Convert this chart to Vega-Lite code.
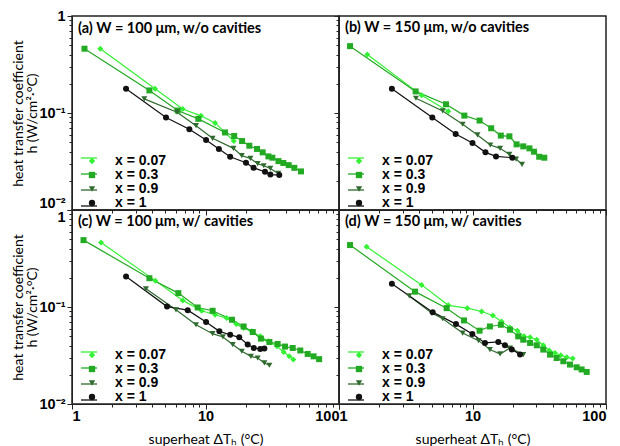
{
  "$schema": "https://vega.github.io/schema/vega-lite/v6.json",
  "background": "white",
  "padding": {"left": 10, "top": 7, "right": 5, "bottom": 0},
  "datasets": {
    "all": [
      {"panel": "a", "s": "x = 0.07", "dT": 1.63, "h": 0.46},
      {"panel": "a", "s": "x = 0.07", "dT": 4.19, "h": 0.178},
      {"panel": "a", "s": "x = 0.07", "dT": 6.75, "h": 0.110},
      {"panel": "a", "s": "x = 0.07", "dT": 9.25, "h": 0.0935},
      {"panel": "a", "s": "x = 0.07", "dT": 11.8, "h": 0.079},
      {"panel": "a", "s": "x = 0.07", "dT": 16.3, "h": 0.0515},
      {"panel": "a", "s": "x = 0.3", "dT": 1.24, "h": 0.46},
      {"panel": "a", "s": "x = 0.3", "dT": 3.80, "h": 0.171},
      {"panel": "a", "s": "x = 0.3", "dT": 6.19, "h": 0.106},
      {"panel": "a", "s": "x = 0.3", "dT": 8.84, "h": 0.087},
      {"panel": "a", "s": "x = 0.3", "dT": 14.0, "h": 0.063},
      {"panel": "a", "s": "x = 0.3", "dT": 16.4, "h": 0.058},
      {"panel": "a", "s": "x = 0.3", "dT": 18.8, "h": 0.0514},
      {"panel": "a", "s": "x = 0.3", "dT": 21.3, "h": 0.046},
      {"panel": "a", "s": "x = 0.3", "dT": 24.3, "h": 0.0426},
      {"panel": "a", "s": "x = 0.3", "dT": 26.8, "h": 0.0393},
      {"panel": "a", "s": "x = 0.3", "dT": 29.6, "h": 0.0357},
      {"panel": "a", "s": "x = 0.3", "dT": 31.7, "h": 0.0346},
      {"panel": "a", "s": "x = 0.3", "dT": 35.2, "h": 0.0319},
      {"panel": "a", "s": "x = 0.3", "dT": 38.3, "h": 0.0305},
      {"panel": "a", "s": "x = 0.3", "dT": 42.0, "h": 0.029},
      {"panel": "a", "s": "x = 0.3", "dT": 46.3, "h": 0.0272},
      {"panel": "a", "s": "x = 0.3", "dT": 51.9, "h": 0.025},
      {"panel": "a", "s": "x = 0.9", "dT": 3.48, "h": 0.140},
      {"panel": "a", "s": "x = 0.9", "dT": 6.12, "h": 0.102},
      {"panel": "a", "s": "x = 0.9", "dT": 8.49, "h": 0.074},
      {"panel": "a", "s": "x = 0.9", "dT": 11.3, "h": 0.0548},
      {"panel": "a", "s": "x = 0.9", "dT": 16.2, "h": 0.0432},
      {"panel": "a", "s": "x = 0.9", "dT": 18.7, "h": 0.0363},
      {"panel": "a", "s": "x = 0.9", "dT": 21.7, "h": 0.034},
      {"panel": "a", "s": "x = 0.9", "dT": 24.6, "h": 0.030},
      {"panel": "a", "s": "x = 0.9", "dT": 27.3, "h": 0.0286},
      {"panel": "a", "s": "x = 0.9", "dT": 30.6, "h": 0.0268},
      {"panel": "a", "s": "x = 0.9", "dT": 35.1, "h": 0.0238},
      {"panel": "a", "s": "x = 1", "dT": 2.54, "h": 0.178},
      {"panel": "a", "s": "x = 1", "dT": 5.06, "h": 0.090},
      {"panel": "a", "s": "x = 1", "dT": 7.57, "h": 0.068},
      {"panel": "a", "s": "x = 1", "dT": 10.1, "h": 0.0527},
      {"panel": "a", "s": "x = 1", "dT": 12.6, "h": 0.0425},
      {"panel": "a", "s": "x = 1", "dT": 15.3, "h": 0.0354},
      {"panel": "a", "s": "x = 1", "dT": 20.1, "h": 0.0307},
      {"panel": "a", "s": "x = 1", "dT": 22.9, "h": 0.0272},
      {"panel": "a", "s": "x = 1", "dT": 27.9, "h": 0.0248},
      {"panel": "a", "s": "x = 1", "dT": 30.6, "h": 0.0232},
      {"panel": "a", "s": "x = 1", "dT": 35.7, "h": 0.0229},

      {"panel": "b", "s": "x = 0.07", "dT": 1.63, "h": 0.401},
      {"panel": "b", "s": "x = 0.07", "dT": 4.16, "h": 0.152},
      {"panel": "b", "s": "x = 0.07", "dT": 6.59, "h": 0.104},
      {"panel": "b", "s": "x = 0.3", "dT": 1.21, "h": 0.489},
      {"panel": "b", "s": "x = 0.3", "dT": 3.75, "h": 0.167},
      {"panel": "b", "s": "x = 0.3", "dT": 6.33, "h": 0.123},
      {"panel": "b", "s": "x = 0.3", "dT": 8.69, "h": 0.094},
      {"panel": "b", "s": "x = 0.3", "dT": 11.3, "h": 0.0836},
      {"panel": "b", "s": "x = 0.3", "dT": 13.8, "h": 0.0696},
      {"panel": "b", "s": "x = 0.3", "dT": 16.3, "h": 0.0585},
      {"panel": "b", "s": "x = 0.3", "dT": 18.9, "h": 0.0575},
      {"panel": "b", "s": "x = 0.3", "dT": 21.4, "h": 0.0475},
      {"panel": "b", "s": "x = 0.3", "dT": 24.0, "h": 0.0453},
      {"panel": "b", "s": "x = 0.3", "dT": 26.7, "h": 0.0432},
      {"panel": "b", "s": "x = 0.3", "dT": 28.9, "h": 0.0399},
      {"panel": "b", "s": "x = 0.3", "dT": 31.6, "h": 0.0354},
      {"panel": "b", "s": "x = 0.3", "dT": 34.5, "h": 0.0346},
      {"panel": "b", "s": "x = 0.9", "dT": 3.77, "h": 0.142},
      {"panel": "b", "s": "x = 0.9", "dT": 5.98, "h": 0.105},
      {"panel": "b", "s": "x = 0.9", "dT": 8.44, "h": 0.0766},
      {"panel": "b", "s": "x = 0.9", "dT": 10.9, "h": 0.0594},
      {"panel": "b", "s": "x = 0.9", "dT": 13.6, "h": 0.0468},
      {"panel": "b", "s": "x = 0.9", "dT": 16.1, "h": 0.0432},
      {"panel": "b", "s": "x = 0.9", "dT": 18.9, "h": 0.0374},
      {"panel": "b", "s": "x = 0.9", "dT": 21.2, "h": 0.0335},
      {"panel": "b", "s": "x = 0.9", "dT": 23.5, "h": 0.0295},
      {"panel": "b", "s": "x = 1", "dT": 2.49, "h": 0.178},
      {"panel": "b", "s": "x = 1", "dT": 5.0, "h": 0.090},
      {"panel": "b", "s": "x = 1", "dT": 7.48, "h": 0.0608},
      {"panel": "b", "s": "x = 1", "dT": 10.0, "h": 0.049},
      {"panel": "b", "s": "x = 1", "dT": 12.5, "h": 0.0393},
      {"panel": "b", "s": "x = 1", "dT": 15.0, "h": 0.0357},
      {"panel": "b", "s": "x = 1", "dT": 19.9, "h": 0.0346},

      {"panel": "c", "s": "x = 0.07", "dT": 1.65, "h": 0.462},
      {"panel": "c", "s": "x = 0.07", "dT": 4.21, "h": 0.187},
      {"panel": "c", "s": "x = 0.07", "dT": 6.75, "h": 0.117},
      {"panel": "c", "s": "x = 0.07", "dT": 9.36, "h": 0.0914},
      {"panel": "c", "s": "x = 0.07", "dT": 11.8, "h": 0.0832},
      {"panel": "c", "s": "x = 0.07", "dT": 14.4, "h": 0.0768},
      {"panel": "c", "s": "x = 0.07", "dT": 17.0, "h": 0.0666},
      {"panel": "c", "s": "x = 0.07", "dT": 19.3, "h": 0.0606},
      {"panel": "c", "s": "x = 0.07", "dT": 22.2, "h": 0.0561},
      {"panel": "c", "s": "x = 0.07", "dT": 25.7, "h": 0.0498},
      {"panel": "c", "s": "x = 0.07", "dT": 29.6, "h": 0.0443},
      {"panel": "c", "s": "x = 0.07", "dT": 34.3, "h": 0.0394},
      {"panel": "c", "s": "x = 0.07", "dT": 38.5, "h": 0.0344},
      {"panel": "c", "s": "x = 0.07", "dT": 42.4, "h": 0.031},
      {"panel": "c", "s": "x = 0.07", "dT": 45.5, "h": 0.0287},
      {"panel": "c", "s": "x = 0.3", "dT": 1.22, "h": 0.489},
      {"panel": "c", "s": "x = 0.3", "dT": 3.8, "h": 0.198},
      {"panel": "c", "s": "x = 0.3", "dT": 6.26, "h": 0.139},
      {"panel": "c", "s": "x = 0.3", "dT": 8.74, "h": 0.0989},
      {"panel": "c", "s": "x = 0.3", "dT": 11.3, "h": 0.0914},
      {"panel": "c", "s": "x = 0.3", "dT": 15.8, "h": 0.0739},
      {"panel": "c", "s": "x = 0.3", "dT": 19.3, "h": 0.063},
      {"panel": "c", "s": "x = 0.3", "dT": 22.6, "h": 0.0552},
      {"panel": "c", "s": "x = 0.3", "dT": 26.0, "h": 0.0472},
      {"panel": "c", "s": "x = 0.3", "dT": 30.1, "h": 0.0436},
      {"panel": "c", "s": "x = 0.3", "dT": 34.7, "h": 0.0416},
      {"panel": "c", "s": "x = 0.3", "dT": 39.4, "h": 0.0391},
      {"panel": "c", "s": "x = 0.3", "dT": 45.0, "h": 0.0378},
      {"panel": "c", "s": "x = 0.3", "dT": 51.3, "h": 0.0356},
      {"panel": "c", "s": "x = 0.3", "dT": 58.3, "h": 0.0328},
      {"panel": "c", "s": "x = 0.3", "dT": 64.5, "h": 0.031},
      {"panel": "c", "s": "x = 0.3", "dT": 71.0, "h": 0.029},
      {"panel": "c", "s": "x = 0.9", "dT": 3.58, "h": 0.154},
      {"panel": "c", "s": "x = 0.9", "dT": 6.01, "h": 0.0935},
      {"panel": "c", "s": "x = 0.9", "dT": 8.49, "h": 0.0656},
      {"panel": "c", "s": "x = 0.9", "dT": 11.3, "h": 0.0531},
      {"panel": "c", "s": "x = 0.9", "dT": 13.5, "h": 0.0491},
      {"panel": "c", "s": "x = 0.9", "dT": 16.0, "h": 0.041},
      {"panel": "c", "s": "x = 0.9", "dT": 18.7, "h": 0.035},
      {"panel": "c", "s": "x = 0.9", "dT": 21.9, "h": 0.031},
      {"panel": "c", "s": "x = 0.9", "dT": 24.6, "h": 0.0298},
      {"panel": "c", "s": "x = 0.9", "dT": 27.6, "h": 0.0265},
      {"panel": "c", "s": "x = 0.9", "dT": 30.1, "h": 0.0251},
      {"panel": "c", "s": "x = 1", "dT": 2.54, "h": 0.206},
      {"panel": "c", "s": "x = 1", "dT": 5.15, "h": 0.101},
      {"panel": "c", "s": "x = 1", "dT": 7.36, "h": 0.0928},
      {"panel": "c", "s": "x = 1", "dT": 10.1, "h": 0.0699},
      {"panel": "c", "s": "x = 1", "dT": 12.7, "h": 0.0561},
      {"panel": "c", "s": "x = 1", "dT": 15.3, "h": 0.0518},
      {"panel": "c", "s": "x = 1", "dT": 17.9, "h": 0.0487},
      {"panel": "c", "s": "x = 1", "dT": 20.7, "h": 0.041},
      {"panel": "c", "s": "x = 1", "dT": 23.0, "h": 0.0378},
      {"panel": "c", "s": "x = 1", "dT": 25.7, "h": 0.0369},
      {"panel": "c", "s": "x = 1", "dT": 27.6, "h": 0.0373},

      {"panel": "d", "s": "x = 0.07", "dT": 1.61, "h": 0.418},
      {"panel": "d", "s": "x = 0.07", "dT": 4.16, "h": 0.169},
      {"panel": "d", "s": "x = 0.07", "dT": 6.59, "h": 0.104},
      {"panel": "d", "s": "x = 0.07", "dT": 9.14, "h": 0.0973},
      {"panel": "d", "s": "x = 0.07", "dT": 11.7, "h": 0.0899},
      {"panel": "d", "s": "x = 0.07", "dT": 14.2, "h": 0.0818},
      {"panel": "d", "s": "x = 0.07", "dT": 16.5, "h": 0.071},
      {"panel": "d", "s": "x = 0.07", "dT": 19.1, "h": 0.0616},
      {"panel": "d", "s": "x = 0.07", "dT": 21.7, "h": 0.057},
      {"panel": "d", "s": "x = 0.07", "dT": 24.3, "h": 0.0498},
      {"panel": "d", "s": "x = 0.07", "dT": 27.0, "h": 0.0487},
      {"panel": "d", "s": "x = 0.07", "dT": 30.3, "h": 0.046},
      {"panel": "d", "s": "x = 0.07", "dT": 33.9, "h": 0.0403},
      {"panel": "d", "s": "x = 0.07", "dT": 37.6, "h": 0.0356},
      {"panel": "d", "s": "x = 0.07", "dT": 41.5, "h": 0.0336},
      {"panel": "d", "s": "x = 0.07", "dT": 45.8, "h": 0.0318},
      {"panel": "d", "s": "x = 0.07", "dT": 50.8, "h": 0.0303},
      {"panel": "d", "s": "x = 0.07", "dT": 56.3, "h": 0.0294},
      {"panel": "d", "s": "x = 0.3", "dT": 1.21, "h": 0.435},
      {"panel": "d", "s": "x = 0.3", "dT": 3.71, "h": 0.144},
      {"panel": "d", "s": "x = 0.3", "dT": 6.4, "h": 0.0973},
      {"panel": "d", "s": "x = 0.3", "dT": 8.64, "h": 0.0727},
      {"panel": "d", "s": "x = 0.3", "dT": 11.3, "h": 0.057},
      {"panel": "d", "s": "x = 0.3", "dT": 13.5, "h": 0.063},
      {"panel": "d", "s": "x = 0.3", "dT": 16.3, "h": 0.0656},
      {"panel": "d", "s": "x = 0.3", "dT": 19.1, "h": 0.0583},
      {"panel": "d", "s": "x = 0.3", "dT": 22.0, "h": 0.0498},
      {"panel": "d", "s": "x = 0.3", "dT": 24.0, "h": 0.046},
      {"panel": "d", "s": "x = 0.3", "dT": 27.0, "h": 0.0426},
      {"panel": "d", "s": "x = 0.3", "dT": 30.3, "h": 0.0403},
      {"panel": "d", "s": "x = 0.3", "dT": 33.9, "h": 0.0364},
      {"panel": "d", "s": "x = 0.3", "dT": 38.1, "h": 0.0323},
      {"panel": "d", "s": "x = 0.3", "dT": 42.7, "h": 0.0298},
      {"panel": "d", "s": "x = 0.3", "dT": 47.9, "h": 0.0276},
      {"panel": "d", "s": "x = 0.3", "dT": 53.7, "h": 0.0255},
      {"panel": "d", "s": "x = 0.3", "dT": 60.3, "h": 0.0239},
      {"panel": "d", "s": "x = 0.3", "dT": 65.7, "h": 0.0227},
      {"panel": "d", "s": "x = 0.3", "dT": 71.7, "h": 0.0214},
      {"panel": "d", "s": "x = 0.9", "dT": 3.36, "h": 0.130},
      {"panel": "d", "s": "x = 0.9", "dT": 4.95, "h": 0.0865},
      {"panel": "d", "s": "x = 0.9", "dT": 5.98, "h": 0.0757},
      {"panel": "d", "s": "x = 0.9", "dT": 8.44, "h": 0.0539},
      {"panel": "d", "s": "x = 0.9", "dT": 11.1, "h": 0.045},
      {"panel": "d", "s": "x = 0.9", "dT": 13.5, "h": 0.0364},
      {"panel": "d", "s": "x = 0.9", "dT": 16.1, "h": 0.0328},
      {"panel": "d", "s": "x = 0.9", "dT": 19.1, "h": 0.0378},
      {"panel": "d", "s": "x = 0.9", "dT": 24.0, "h": 0.0323},
      {"panel": "d", "s": "x = 1", "dT": 2.49, "h": 0.174},
      {"panel": "d", "s": "x = 1", "dT": 5.03, "h": 0.0885},
      {"panel": "d", "s": "x = 1", "dT": 7.52, "h": 0.0666},
      {"panel": "d", "s": "x = 1", "dT": 9.97, "h": 0.0526},
      {"panel": "d", "s": "x = 1", "dT": 12.4, "h": 0.0426},
      {"panel": "d", "s": "x = 1", "dT": 15.6, "h": 0.0436},
      {"panel": "d", "s": "x = 1", "dT": 17.5, "h": 0.0403},
      {"panel": "d", "s": "x = 1", "dT": 19.7, "h": 0.0364},
      {"panel": "d", "s": "x = 1", "dT": 22.7, "h": 0.0323}
    ]
  },
  "config": {
    "view": {"stroke": "#222", "strokeWidth": 1.5},
    "title": {"font": "Lato", "fontSize": 14.5, "fontWeight": "bold", "color": "#000", "anchor": "start", "frame": "group", "dx": 6},
    "axis": {
      "domainColor": "#222",
      "tickColor": "#222",
      "grid": false,
      "labelFont": "Liberation Sans",
      "labelFontWeight": "bold",
      "labelFontSize": 14.5,
      "labelColor": "#000",
      "labelPadding": 2,
      "titleFont": "Lato",
      "titleFontWeight": "normal",
      "titleFontSize": 14,
      "titleLineHeight": 14,
      "titleColor": "#000"
    },
    "legend": {
      "orient": "none",
      "legendY": 138,
      "title": null,
      "padding": 0,
      "labelFont": "Liberation Sans",
      "labelFontWeight": "bold",
      "labelFontSize": 14,
      "labelColor": "#000",
      "rowPadding": -2,
      "symbolStrokeWidth": 1.3
    }
  },
  "columns": 2,
  "spacing": 0,
  "bounds": "flush",
  "resolve": {"scale": {"color": "independent", "shape": "independent", "stroke": "independent"}, "legend": {"color": "independent", "shape": "independent", "stroke": "independent"}},
  "concat": [
    {
      "title": {"text": "(a) W = 100 μm, w/o cavities", "offset": -28},
      "width": 267, "height": 194,
      "data": {"name": "all"},
      "transform": [{"filter": "datum.panel == 'a'"}],
      "encoding": {
        "x": {"field": "dT", "type": "quantitative", "scale": {"type": "log", "domain": [1, 100], "nice": false},
              "axis": {"labels": false, "title": null, "values": [1,2,3,4,5,6,7,8,9,10,20,30,40,50,60,70,80,90,100],
                       "tickSize": {"condition": {"test": "abs(log(datum.value)/LN10 - round(log(datum.value)/LN10)) < 1e-6", "value": 5}, "value": 3}}},
        "y": {"field": "h", "type": "quantitative", "scale": {"type": "log", "domain": [0.01, 1], "nice": false},
              "axis": {"title": ["heat transfer coefficient", "h (W/cm²·°C)"], "titlePadding": 0,
                       "values": [0.01,0.02,0.03,0.04,0.05,0.06,0.07,0.08,0.09,0.1,0.2,0.3,0.4,0.5,0.6,0.7,0.8,0.9,1],
                       "tickSize": {"condition": {"test": "abs(log(datum.value)/LN10 - round(log(datum.value)/LN10)) < 1e-6", "value": 5}, "value": 3},
                       "labelBaseline": {"condition": {"test": "datum.value < 0.015", "value": "bottom"}, "value": "middle"},
                       "labelExpr": "abs(datum.value-1)<1e-9 ? '1' : abs(datum.value-0.1)<1e-9 ? '10⁻¹' : abs(datum.value-0.01)<1e-9 ? '10⁻²' : ''"}}
      },
      "layer": [
        {"mark": {"type": "line", "strokeWidth": 1.2},
         "encoding": {"stroke": {"field": "s", "type": "nominal",
            "scale": {"domain": ["x = 0.07", "x = 0.3", "x = 0.9", "x = 1", "-"], "range": ["#33f233", "#22aa22", "#2f6a2f", "#111111", "#ffffff"]},
            "legend": {"values": ["x = 0.07", "x = 0.3", "x = 0.9", "x = 1"], "symbolType": "stroke", "symbolSize": 256, "legendX": 8, "legendY": 133, "labelExpr": "''"}}}},
        {"mark": {"type": "point", "filled": true, "size": 36, "opacity": 1},
         "encoding": {
           "color": {"field": "s", "type": "nominal", "scale": {"domain": ["x = 0.07", "x = 0.3", "x = 0.9", "x = 1"], "range": ["#33f233", "#22aa22", "#2f6a2f", "#111111"]},
                     "legend": {"legendX": 13, "symbolSize": 40, "labelOffset": 16}},
           "shape": {"field": "s", "type": "nominal", "scale": {"domain": ["x = 0.07", "x = 0.3", "x = 0.9", "x = 1"], "range": ["diamond", "square", "triangle-down", "circle"]}}}}
      ]
    },
    {
      "title": {"text": "(b) W = 150 μm, w/o cavities", "offset": -20},
      "width": 267, "height": 194,
      "data": {"name": "all"},
      "transform": [{"filter": "datum.panel == 'b'"}],
      "encoding": {
        "x": {"field": "dT", "type": "quantitative", "scale": {"type": "log", "domain": [1, 100], "nice": false},
              "axis": {"labels": false, "title": null, "values": [1,2,3,4,5,6,7,8,9,10,20,30,40,50,60,70,80,90,100],
                       "tickSize": {"condition": {"test": "abs(log(datum.value)/LN10 - round(log(datum.value)/LN10)) < 1e-6", "value": 5}, "value": 3}}},
        "y": {"field": "h", "type": "quantitative", "scale": {"type": "log", "domain": [0.01, 1], "nice": false},
              "axis": {"labels": false, "title": null,
                       "values": [0.01,0.02,0.03,0.04,0.05,0.06,0.07,0.08,0.09,0.1,0.2,0.3,0.4,0.5,0.6,0.7,0.8,0.9,1],
                       "tickSize": {"condition": {"test": "abs(log(datum.value)/LN10 - round(log(datum.value)/LN10)) < 1e-6", "value": 5}, "value": 3}}}
      },
      "layer": [
        {"mark": {"type": "line", "strokeWidth": 1.2},
         "encoding": {"stroke": {"field": "s", "type": "nominal",
            "scale": {"domain": ["x = 0.07", "x = 0.3", "x = 0.9", "x = 1", "-"], "range": ["#33f233", "#22aa22", "#2f6a2f", "#111111", "#ffffff"]},
            "legend": {"values": ["x = 0.07", "x = 0.3", "x = 0.9", "x = 1"], "symbolType": "stroke", "symbolSize": 256, "legendX": 8, "legendY": 133, "labelExpr": "''"}}}},
        {"mark": {"type": "point", "filled": true, "size": 36, "opacity": 1},
         "encoding": {
           "color": {"field": "s", "type": "nominal", "scale": {"domain": ["x = 0.07", "x = 0.3", "x = 0.9", "x = 1"], "range": ["#33f233", "#22aa22", "#2f6a2f", "#111111"]},
                     "legend": {"legendX": 13, "symbolSize": 40, "labelOffset": 16}},
           "shape": {"field": "s", "type": "nominal", "scale": {"domain": ["x = 0.07", "x = 0.3", "x = 0.9", "x = 1"], "range": ["diamond", "square", "triangle-down", "circle"]}}}}
      ]
    },
    {
      "title": {"text": "(c) W = 100 μm, w/ cavities", "offset": -20},
      "width": 267, "height": 194,
      "data": {"name": "all"},
      "transform": [{"filter": "datum.panel == 'c'"}],
      "encoding": {
        "x": {"field": "dT", "type": "quantitative", "scale": {"type": "log", "domain": [1, 100], "nice": false},
              "axis": {"title": "superheat ΔTₕ (°C)", "titlePadding": 10, "labelPadding": 0, "values": [1,2,3,4,5,6,7,8,9,10,20,30,40,50,60,70,80,90,100],
                       "tickSize": {"condition": {"test": "abs(log(datum.value)/LN10 - round(log(datum.value)/LN10)) < 1e-6", "value": 5}, "value": 3},
                       "labelExpr": "abs(datum.value-1)<1e-9 ? '1' : abs(datum.value-10)<1e-9 ? '10' : abs(datum.value-100)<1e-9 ? '100' : ''"}},
        "y": {"field": "h", "type": "quantitative", "scale": {"type": "log", "domain": [0.01, 1], "nice": false},
              "axis": {"title": ["heat transfer coefficient", "h (W/cm²·°C)"], "titlePadding": 0,
                       "values": [0.01,0.02,0.03,0.04,0.05,0.06,0.07,0.08,0.09,0.1,0.2,0.3,0.4,0.5,0.6,0.7,0.8,0.9,1],
                       "tickSize": {"condition": {"test": "abs(log(datum.value)/LN10 - round(log(datum.value)/LN10)) < 1e-6", "value": 5}, "value": 3},
                       "labelBaseline": {"condition": {"test": "datum.value > 0.95", "value": "top"}, "value": "middle"},
                       "labelExpr": "abs(datum.value-1)<1e-9 ? '1' : abs(datum.value-0.1)<1e-9 ? '10⁻¹' : abs(datum.value-0.01)<1e-9 ? '10⁻²' : ''"}}
      },
      "layer": [
        {"mark": {"type": "line", "strokeWidth": 1.2},
         "encoding": {"stroke": {"field": "s", "type": "nominal",
            "scale": {"domain": ["x = 0.07", "x = 0.3", "x = 0.9", "x = 1", "-"], "range": ["#33f233", "#22aa22", "#2f6a2f", "#111111", "#ffffff"]},
            "legend": {"values": ["x = 0.07", "x = 0.3", "x = 0.9", "x = 1"], "symbolType": "stroke", "symbolSize": 256, "legendX": 8, "legendY": 133, "labelExpr": "''"}}}},
        {"mark": {"type": "point", "filled": true, "size": 36, "opacity": 1},
         "encoding": {
           "color": {"field": "s", "type": "nominal", "scale": {"domain": ["x = 0.07", "x = 0.3", "x = 0.9", "x = 1"], "range": ["#33f233", "#22aa22", "#2f6a2f", "#111111"]},
                     "legend": {"legendX": 13, "symbolSize": 40, "labelOffset": 16}},
           "shape": {"field": "s", "type": "nominal", "scale": {"domain": ["x = 0.07", "x = 0.3", "x = 0.9", "x = 1"], "range": ["diamond", "square", "triangle-down", "circle"]}}}}
      ]
    },
    {
      "title": {"text": "(d) W = 150 μm, w/ cavities", "offset": -20},
      "width": 267, "height": 194,
      "data": {"name": "all"},
      "transform": [{"filter": "datum.panel == 'd'"}],
      "encoding": {
        "x": {"field": "dT", "type": "quantitative", "scale": {"type": "log", "domain": [1, 100], "nice": false},
              "axis": {"title": "superheat ΔTₕ (°C)", "titlePadding": 10, "labelPadding": 0, "values": [1,2,3,4,5,6,7,8,9,10,20,30,40,50,60,70,80,90,100],
                       "tickSize": {"condition": {"test": "abs(log(datum.value)/LN10 - round(log(datum.value)/LN10)) < 1e-6", "value": 5}, "value": 3},
                       "labelExpr": "abs(datum.value-1)<1e-9 ? '1' : abs(datum.value-10)<1e-9 ? '10' : abs(datum.value-100)<1e-9 ? '100' : ''"}},
        "y": {"field": "h", "type": "quantitative", "scale": {"type": "log", "domain": [0.01, 1], "nice": false},
              "axis": {"labels": false, "title": null,
                       "values": [0.01,0.02,0.03,0.04,0.05,0.06,0.07,0.08,0.09,0.1,0.2,0.3,0.4,0.5,0.6,0.7,0.8,0.9,1],
                       "tickSize": {"condition": {"test": "abs(log(datum.value)/LN10 - round(log(datum.value)/LN10)) < 1e-6", "value": 5}, "value": 3}}}
      },
      "layer": [
        {"mark": {"type": "line", "strokeWidth": 1.2},
         "encoding": {"stroke": {"field": "s", "type": "nominal",
            "scale": {"domain": ["x = 0.07", "x = 0.3", "x = 0.9", "x = 1", "-"], "range": ["#33f233", "#22aa22", "#2f6a2f", "#111111", "#ffffff"]},
            "legend": {"values": ["x = 0.07", "x = 0.3", "x = 0.9", "x = 1"], "symbolType": "stroke", "symbolSize": 256, "legendX": 8, "legendY": 133, "labelExpr": "''"}}}},
        {"mark": {"type": "point", "filled": true, "size": 36, "opacity": 1},
         "encoding": {
           "color": {"field": "s", "type": "nominal", "scale": {"domain": ["x = 0.07", "x = 0.3", "x = 0.9", "x = 1"], "range": ["#33f233", "#22aa22", "#2f6a2f", "#111111"]},
                     "legend": {"legendX": 13, "symbolSize": 40, "labelOffset": 16}},
           "shape": {"field": "s", "type": "nominal", "scale": {"domain": ["x = 0.07", "x = 0.3", "x = 0.9", "x = 1"], "range": ["diamond", "square", "triangle-down", "circle"]}}}}
      ]
    }
  ]
}
